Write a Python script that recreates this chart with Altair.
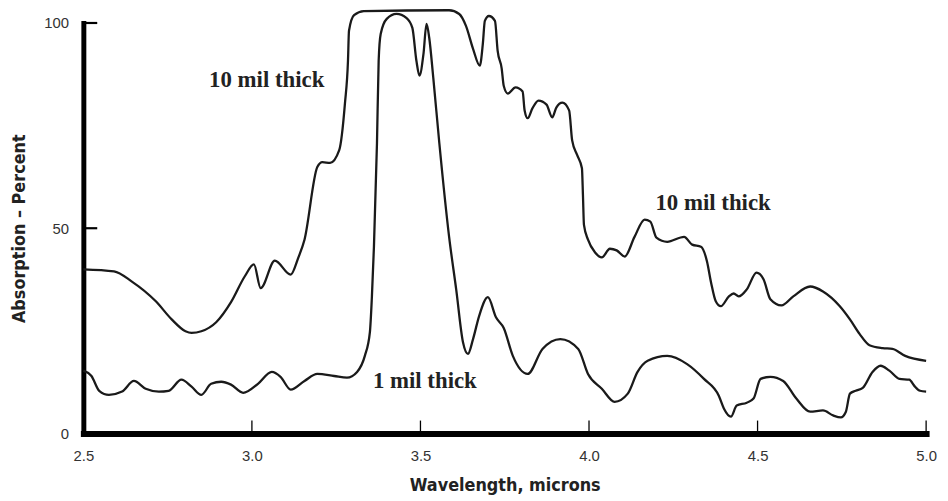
import altair as alt
import pandas as pd

# 10 mil thick film
thick_wl = [2.500, 2.591, 2.644, 2.715, 2.762, 2.803, 2.821, 2.850, 2.894, 2.938,
            2.979, 3.006, 3.026, 3.068, 3.115, 3.138, 3.156, 3.194, 3.209, 3.232,
            3.259, 3.276, 3.285, 3.288, 3.303, 3.332, 3.585, 3.615, 3.635, 3.656,
            3.676, 3.685, 3.691, 3.703, 3.721, 3.729, 3.741, 3.747, 3.759, 3.782,
            3.803, 3.809, 3.818, 3.832, 3.850, 3.874, 3.891, 3.903, 3.921, 3.941,
            3.950, 3.965, 3.979, 3.982, 3.985, 3.997, 4.018, 4.038, 4.062, 4.082,
            4.106, 4.135, 4.165, 4.182, 4.200, 4.232, 4.282, 4.306, 4.332, 4.350,
            4.362, 4.376, 4.391, 4.415, 4.429, 4.444, 4.468, 4.497, 4.518, 4.538,
            4.571, 4.606, 4.656, 4.694, 4.744, 4.774, 4.803, 4.832, 4.871, 4.900,
            4.938, 5.000]
thick_pct = [40.0, 39.5, 37.0, 32.2, 27.8, 24.9, 24.5, 24.9, 27.1, 32.0,
             38.3, 41.2, 35.4, 42.1, 38.7, 42.9, 47.2, 64.9, 66.1, 65.9,
             69.0, 80.4, 90.8, 98.1, 101.9, 102.9, 103.1, 102.2, 99.3, 93.7,
             89.6, 94.9, 100.5, 101.7, 100.5, 93.2, 88.9, 84.7, 82.8, 84.3,
             83.3, 78.7, 76.8, 79.2, 81.1, 80.1, 77.0, 79.4, 80.6, 78.7,
             71.4, 67.8, 64.6, 58.1, 50.8, 47.2, 44.1, 42.9, 45.0, 44.6,
             43.1, 47.9, 52.1, 51.6, 47.7, 46.7, 47.9, 46.0, 45.5, 41.9,
             36.8, 32.2, 31.0, 33.4, 34.1, 33.4, 35.1, 39.2, 37.5, 32.7,
             31.2, 33.4, 35.8, 34.6, 31.0, 27.8, 24.2, 21.5, 20.8, 20.6,
             18.9, 17.7]

# 1 mil thick film
thin_wl = [2.500, 2.524, 2.547, 2.576, 2.615, 2.650, 2.685, 2.724, 2.753, 2.791,
           2.821, 2.850, 2.879, 2.909, 2.938, 2.974, 3.018, 3.059, 3.085, 3.115,
           3.156, 3.194, 3.244, 3.282, 3.312, 3.335, 3.350, 3.356, 3.362, 3.371,
           3.376, 3.382, 3.400, 3.429, 3.459, 3.476, 3.488, 3.497, 3.509, 3.518,
           3.526, 3.538, 3.556, 3.585, 3.606, 3.626, 3.641, 3.656, 3.674, 3.700,
           3.724, 3.747, 3.774, 3.818, 3.862, 3.915, 3.968, 3.997, 4.038, 4.076,
           4.115, 4.144, 4.174, 4.232, 4.291, 4.341, 4.385, 4.400, 4.421, 4.438,
           4.468, 4.488, 4.509, 4.538, 4.576, 4.615, 4.656, 4.694, 4.724, 4.747,
           4.762, 4.774, 4.791, 4.812, 4.841, 4.865, 4.891, 4.921, 4.950, 4.965,
           4.982, 5.000]
thin_pct = [15.3, 14.0, 10.4, 9.4, 10.2, 12.8, 10.9, 10.2, 10.4, 13.1,
            11.4, 9.4, 12.1, 12.6, 11.9, 9.9, 12.1, 15.0, 13.8, 10.7,
            12.8, 14.5, 14.0, 13.6, 15.0, 18.9, 24.7, 33.4, 45.5, 70.7,
            90.8, 97.3, 101.0, 102.2, 101.2, 98.8, 90.8, 87.2, 92.5, 99.8,
            96.4, 86.7, 70.7, 47.9, 35.1, 22.3, 19.4, 23.0, 28.6, 33.2,
            28.3, 25.7, 18.9, 14.5, 20.6, 23.0, 20.6, 14.5, 10.9, 7.7,
            9.7, 15.0, 17.7, 18.9, 16.9, 13.3, 9.2, 6.1, 4.1, 6.8,
            7.5, 8.5, 13.3, 13.8, 12.8, 8.5, 5.3, 5.6, 4.4, 3.9,
            5.3, 9.7, 10.4, 11.1, 15.0, 16.5, 15.3, 13.3, 13.1, 11.6,
            10.4, 10.2]

x_ticks = [2.5, 3.0, 3.5, 4.0, 4.5, 5.0]
y_ticks = [0, 50, 100]

label_text = ["10 mil thick", "10 mil thick", "1 mil thick"]
label_wl = [3.044, 4.368, 3.513]
label_pct = [86.0, 56.2, 12.8]

W, H = 850, 414
INK = "#1a1a1a"
SANS = "Liberation Sans, Arial, sans-serif"
NARROW = "Liberation Sans Narrow, DejaVu Sans Condensed, Arial Narrow, sans-serif"
SERIF = "Liberation Serif, Times New Roman, serif"

lines_df = pd.concat([
    pd.DataFrame({"wl": thick_wl, "pct": thick_pct, "series": "10 mil"}),
    pd.DataFrame({"wl": thin_wl, "pct": thin_pct, "series": "1 mil"}),
])
labels_df = pd.DataFrame({"wl": label_wl, "pct": label_pct, "text": label_text})
xt_df = pd.DataFrame({"wl": x_ticks[1:]})
yt_df = pd.DataFrame({"pct": y_ticks[1:]})

x_scale = alt.Scale(domain=[2.5, 5.0], nice=False, zero=False)
y_scale = alt.Scale(domain=[0, 100], nice=False)

x_axis = alt.Axis(values=x_ticks, format=".1f", title="Wavelength, microns",
                  grid=False, ticks=False, domainColor="#000000", domainWidth=6,
                  domainCap="square",
                  labelFont=SANS, labelFontSize=15, labelColor="#333333",
                  labelPadding=15, labelFlush=False,
                  titleFont=NARROW, titleFontSize=18, titleFontWeight="bold",
                  titleColor="#222222", titleX=W / 2, titleY=53,
                  titleBaseline="middle", titleAlign="center")
y_axis = alt.Axis(values=y_ticks, title="Absorption \u2013 Percent",
                  grid=False, ticks=False, domainColor="#000000", domainWidth=5,
                  domainCap="square",
                  labelFont=SANS, labelFontSize=15, labelColor="#333333",
                  labelPadding=15, labelFlush=False,
                  titleFont=NARROW, titleFontSize=18, titleFontWeight="bold",
                  titleColor="#222222", titleX=-64, titleY=H / 2,
                  titleAngle=-90, titleBaseline="middle", titleAlign="center")

X = alt.X("wl:Q", scale=x_scale, axis=x_axis)
Y = alt.Y("pct:Q", scale=y_scale, axis=y_axis)

lines = alt.Chart(lines_df).mark_line(
    interpolate="monotone", color=INK, strokeWidth=2.3
).encode(x=X, y=Y, detail="series:N")

labels = alt.Chart(labels_df).mark_text(
    font=SERIF, fontSize=23, fontWeight="bold", color="#222222",
    align="center", baseline="middle"
).encode(x=X, y=Y, text="text:N")

xticks = alt.Chart(xt_df).mark_rule(color="#000000", strokeWidth=1.3).encode(
    x=X, y=alt.value(H), y2=alt.value(H - 13),
)

yticks = alt.Chart(yt_df).mark_rule(color="#000000", strokeWidth=2.2).encode(
    y=Y, x=alt.value(0), x2=alt.value(14),
)

chart = alt.layer(lines, labels, xticks, yticks).properties(
    width=W, height=H,
    padding={"left": 76, "top": 13, "right": 14, "bottom": 66},
    autosize=alt.AutoSizeParams(type="none"),
    background="white",
).configure_view(stroke=None)

chart.save("out.html", embed_options={"renderer": "svg", "actions": False})
